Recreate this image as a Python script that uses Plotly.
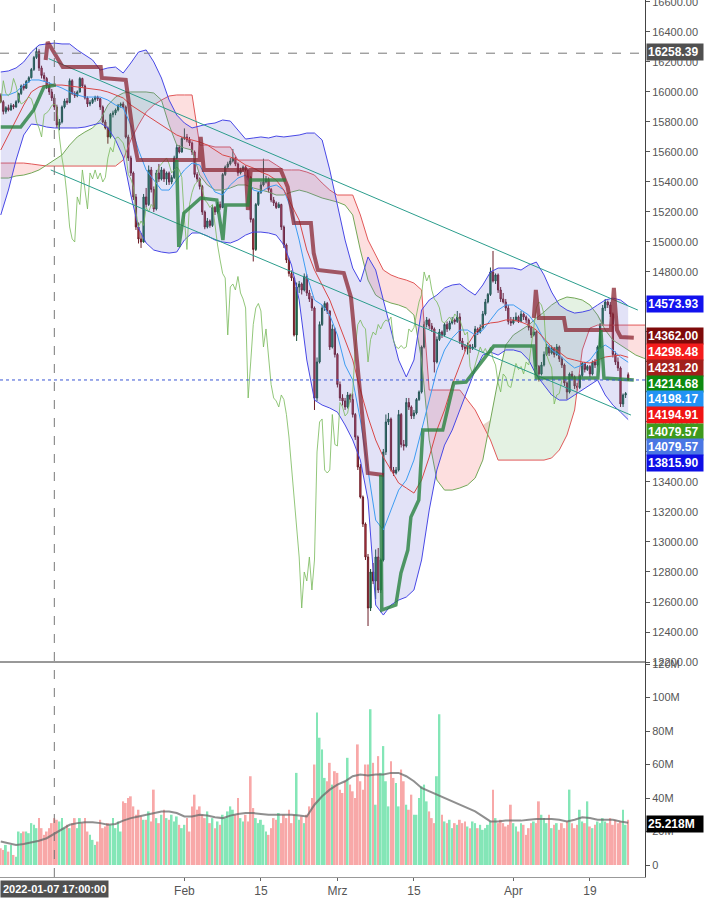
import plotly.graph_objects as go

# ------------------------------------------------------------------ data
BARS_PER_DAY = 3
CHIKOU_SHIFT = 26

open_ = [
    15975,15935,15870, 15895,15880,15910, 15900,15935,15990, 16040,16025,16070,
    16095,16150,16230, 16270,16160,16110, 16090,16040,16000, 15960,15900,15780,
    15800,15900,15940, 15930,16075,15990, 15975,16000,16090, 16040,15960,15920,
    15930,15950,15965, 15955,15900,15800, 15760,15700,15850, 15860,15880,15910,
    15920,15900,15700, 15560,15460,15300, 15100,15020,15000, 15300,15250,15480,
    15350,15220,15460, 15420,15480,15420, 15460,15400,15430, 15560,15630,15600,
    15690,15700,15680, 15660,15600,15450, 15420,15370,15200, 15100,15140,15110,
    15230,15200,15250, 15230,15450,15500, 15520,15540,15560, 15520,15460,15480,
    15500,15480,15430, 15150,14950,15250, 15330,15380,15400, 15420,15350,15280,
    15260,15230,15250, 15100,14980,14880, 14790,14760,14380, 14700,14720,14680,
    14770,14660,14620, 14560,13960,14200, 14450,14560,14590, 14540,14300,14420,
    14250,14050,13960, 13940,13900,13980, 13950,13850,13700, 13500,13300,13120,
    12900,12560,12800, 12740,12900,12680, 12880,13600,13800, 13820,13480,13460,
    13480,13850,13650, 13640,13930,13900, 13840,13860,13950, 14000,14300,14450,
    14480,14440,14420, 14200,14350,14400, 14380,14450,14420, 14460,14480,14470,
    14500,14340,14300, 14290,14310,14290, 14300,14420,14400, 14430,14520,14600,
    14650,14800,14740, 14780,14680,14620, 14600,14560,14470, 14460,14480,14500,
    14470,14520,14500, 14480,14430,14380, 14400,14170,14120, 14180,14250,14300,
    14260,14290,14250, 14300,14220,14180, 14060,14000,14120, 14100,14040,14030,
    14110,14190,14150, 14170,14120,14200, 14180,14300,14450, 14560,14600,14580,
    14520,14250,14200, 14160,13920,13980, 14115]

high = [
    15990,15945,15905, 15915,15925,15920, 15945,15995,16050, 16055,16080,16105,
    16160,16240,16300, 16285,16175,16130, 16100,16065,16020, 15975,15915,15820,
    15910,15955,15960, 16090,16085,16005, 16010,16100,16095, 16050,15970,15945,
    15960,15975,15975, 15960,15910,15815, 15770,15860,15875, 15890,15920,15930,
    15935,15910,15715, 15575,15470,15320, 15130,15060,15320, 15360,15510,15500,
    15370,15480,15520, 15500,15490,15470, 15470,15445,15575, 15650,15645,15700,
    15757,15720,15700, 15670,15610,15465, 15430,15380,15210, 15160,15150,15245,
    15240,15265,15270, 15460,15510,15535, 15560,15620,15570, 15530,15495,15510,
    15510,15490,15440, 15160,15260,15340, 15400,15555,15440, 15430,15360,15300,
    15270,15265,15255, 15110,14990,14895, 14810,14770,14730, 14740,14730,14790,
    14785,14680,14640, 14570,14230,14470, 14580,14605,14600, 14545,14450,14430,
    14260,14070,13985, 13960,14000,13990, 13990,13860,13710, 13520,13310,13130,
    12920,12820,12860, 12950,12960,12890, 13620,13850,13860, 13830,13500,13500,
    13880,13860,13680, 13960,13960,13910, 13880,13960,14010, 14310,14470,14500,
    14490,14460,14430, 14370,14420,14410, 14460,14470,14475, 14500,14490,14540,
    14525,14360,14320, 14330,14320,14320, 14440,14430,14450, 14540,14620,14660,
    14830,14940,14790, 14790,14700,14660, 14620,14580,14500, 14500,14530,14510,
    14540,14530,14510, 14490,14440,14420, 14410,14180,14200, 14270,14320,14310,
    14310,14300,14320, 14310,14235,14190, 14070,14130,14140, 14110,14060,14120,
    14200,14200,14180, 14180,14210,14220, 14310,14460,14580, 14620,14610,14600,
    14530,14270,14230, 14170,13990,14000, 14130]

low = [
    15925,15850,15855, 15870,15875,15885, 15895,15925,15980, 16010,16020,16060,
    16090,16140,16220, 16140,16090,16070, 16020,15980,15940, 15880,15760,15745,
    15790,15890,15915, 15925,15980,15960, 15965,15995,16030, 15950,15900,15905,
    15920,15935,15940, 15880,15790,15750, 15655,15690,15830, 15845,15870,15895,
    15890,15690,15540, 15440,15280,15080, 14990,14960,14995, 15230,15240,15330,
    15200,15210,15400, 15410,15400,15380, 15380,15385,15420, 15550,15590,15595,
    15680,15665,15640, 15580,15430,15400, 15350,15180,15085, 15090,15095,15100,
    15180,15190,15215, 15225,15440,15490, 15510,15530,15505, 15440,15450,15470,
    15470,15415,15130, 14870,14940,15240, 15320,15370,15390, 15330,15265,15240,
    15220,15225,15080, 14960,14860,14770, 14740,14370,14340, 14660,14650,14670,
    14640,14600,14540, 13880,13940,14190, 14440,14540,14520, 14280,14290,14230,
    14030,13940,13910, 13880,13890,13930, 13830,13680,13480, 13290,13100,12880,
    12440,12540,12720, 12620,12660,12660, 12870,13580,13780, 13470,13440,13450,
    13470,13630,13610, 13630,13880,13820, 13820,13850,13940, 13990,14290,14430,
    14420,14400,14130, 14190,14340,14360, 14370,14400,14410, 14450,14450,14460,
    14320,14280,14270, 14250,14260,14280, 14290,14380,14390, 14420,14510,14590,
    14640,14730,14720, 14660,14600,14590, 14540,14450,14440, 14450,14470,14460,
    14465,14480,14460, 14410,14360,14370, 14150,14070,14110, 14170,14240,14240,
    14250,14230,14240, 14200,14160,14040, 13950,13990,14080, 14020,14010,14020,
    14100,14130,14140, 14100,14110,14160, 14170,14290,14440, 14540,14560,14500,
    14230,14180,14140, 13900,13900,13960, 14075]

close = [
    15935,15870,15895, 15880,15910,15900, 15935,15990,16040, 16025,16070,16095,
    16150,16230,16270, 16160,16110,16090, 16040,16000,15960, 15900,15780,15800,
    15900,15940,15930, 16075,15990,15975, 16000,16090,16040, 15960,15920,15930,
    15950,15965,15955, 15900,15800,15760, 15700,15850,15860, 15880,15910,15920,
    15900,15700,15560, 15460,15300,15100, 15020,15000,15300, 15250,15480,15350,
    15220,15460,15420, 15480,15420,15460, 15400,15430,15560, 15630,15600,15690,
    15700,15680,15660, 15600,15450,15420, 15370,15200,15100, 15140,15110,15230,
    15200,15250,15230, 15450,15500,15520, 15540,15560,15520, 15460,15480,15500,
    15480,15430,15150, 14950,15250,15330, 15380,15400,15420, 15350,15280,15260,
    15230,15250,15100, 14980,14880,14790, 14760,14380,14700, 14720,14680,14770,
    14660,14620,14560, 13960,14200,14450, 14560,14590,14540, 14300,14420,14250,
    14050,13960,13940, 13900,13980,13950, 13850,13700,13500, 13300,13120,12900,
    12560,12800,12740, 12900,12680,12880, 13600,13800,13820, 13480,13460,13480,
    13850,13650,13640, 13930,13900,13840, 13860,13950,14000, 14300,14450,14480,
    14440,14420,14200, 14350,14400,14380, 14450,14420,14460, 14480,14470,14500,
    14340,14300,14290, 14310,14290,14300, 14420,14400,14430, 14520,14600,14650,
    14800,14740,14780, 14680,14620,14600, 14560,14470,14460, 14480,14500,14470,
    14520,14500,14480, 14430,14380,14400, 14170,14120,14180, 14250,14300,14260,
    14290,14250,14300, 14220,14180,14060, 14000,14120,14100, 14040,14030,14110,
    14190,14150,14170, 14120,14200,14180, 14300,14450,14560, 14600,14580,14520,
    14250,14200,14160, 13920,13980,13990, 14080]

volume_m = [
    10,9,12, 8,12,6, 5,20,19, 20,20,19, 25,24,22, 28,22,18, 20,22,25, 28,27,26,
    28,22,24, 22,25,28, 22,28,25, 28,20,18, 15,12,14, 27,22,23, 25,24,28, 22,26,20,
    38,37,40, 41,35,30, 33,29,27, 27,32,26, 45,28,25, 30,33,28, 27,30,26, 29,24,22,
    24,28,20, 35,42,33, 35,30,28, 32,25,28, 22,26,24, 30,28,32, 35,33,30, 40,28,26,
    30,26,53, 34,28,25, 27,24,20, 18,22,28, 27,31,25, 30,28,33, 25,30,55, 27,29,25,
    30,35,40, 60,91,76, 69,52,50, 61,48,56, 55,45,43, 50,64,48, 44,40,72, 50,45,60,
    60,93,61, 36,65,55, 71,50,35, 62,52,49, 35,57,50, 36,33,42, 30,30,40, 47,48,38,
    32,28,25, 53,90,30, 26,25,27, 22,25,24, 27,25,26, 23,22,26, 25,22,24, 21,22,24,
    26,45,28, 25,27,25, 23,24,36, 25,23,20, 25,24,18, 22,25,26, 25,38,30, 28,25,30,
    22,24,25, 21,25,22, 26,45,25, 22,24,33, 26,25,38, 23,22,24, 26,25,28, 26,25,28,
    24,27,25, 26,33,24, 27]

# daily-sampled indicator readings (one value per trading day)
vol_ma_m = [
    14,13,12,12.5,13.5,14.5,16,18.5,21,24,
    25,25.5,25.5,25,24,24.5,26.5,28,29,30,
    31,32,32,31,29,29,30,29.5,28.5,28,
    29.5,30.5,31,31,30.5,30,30,30,30,29.5,
    29,36,41,45,48,50,53,54,53.5,54,
    54,55,55,53,50,46,44,42,40,38,
    36,34,32,29,26,26,26.5,26.5,26.5,27,
    27.5,27.5,27.5,27,26,27,28.5,28,27,27,
    27,26,25.218]

bb_upper = [
    16133,16140,16160,16200,16266,16313,16320,16326,16320,16320,
    16280,16246,16213,16146,16160,16166,16126,16193,16266,16280,
    16200,16093,15946,15846,15793,15760,15773,15786,15793,15813,
    15806,15746,15686,15693,15700,15693,15706,15700,15706,15713,
    15726,15726,15680,15480,15246,15013,14826,14733,14900,14813,
    14613,14413,14213,14100,14213,14546,14613,14646,14693,14713,
    14720,14680,14646,14713,14800,14826,14826,14826,14813,14846,
    14866,14780,14666,14580,14546,14526,14533,14546,14580,14613,
    14626,14613,14573.93]

bb_lower = [
    15180,15346,15546,15713,15786,15780,15766,15760,15760,15760,
    15760,15766,15780,15793,15760,15680,15566,15313,15093,14993,
    14946,14933,14926,14933,15013,15060,15060,15040,15013,15000,
    14993,15013,15046,15066,15066,15060,15046,14980,14846,14613,
    14213,13946,13913,13893,13866,13780,13680,13546,13280,12580,
    12513,12580,12613,12633,12680,12880,13213,13480,13646,13746,
    13880,14013,14146,14246,14266,14246,14280,14280,14266,14213,
    14113,14046,13980,13946,13946,13980,14013,14046,14080,13980,
    13913,13866,13815.90]

bb_basis = [
    15980,15980,16000,16046,16080,16080,16066,16046,16026,16000,
    15980,15966,15966,15966,15946,15913,15893,15780,15613,15480,
    15413,15346,15346,15413,15480,15526,15513,15413,15333,15313,
    15380,15426,15446,15346,15333,15366,15380,15346,15213,15013,
    14780,14613,14580,14513,14380,14180,14080,13813,13480,13146,
    13080,13213,13346,13413,13546,13746,13946,14146,14280,14360,
    14413,14413,14380,14413,14480,14546,14580,14580,14546,14513,
    14446,14346,14280,14246,14200,14160,14180,14213,14280,14313,
    14280,14233,14198.17]

kijun = [
    15613,15713,15813,15913,16000,16033,16046,16046,16046,16040,
    16033,16026,16020,16013,16000,15980,15960,15913,15880,15846,
    15813,15780,15746,15713,15693,15680,15666,15646,15613,15580,
    15566,15546,15513,15493,15466,15446,15413,15346,15246,15146,
    14946,14813,14713,14613,14480,14346,14213,14013,13833,13680,
    13566,13480,13393,13360,13326,13413,13566,13746,13880,14046,
    14180,14313,14393,14446,14460,14466,14480,14480,14466,14446,
    14413,14360,14300,14266,14226,14213,14200,14193,14213,14233,
    14240,14246,14231.20]

span_a = [
    15426,15426,15440,15446,15460,15480,15513,15546,15580,15646,
    15700,15733,15760,15813,15913,15966,15993,16000,16000,16000,
    15993,15946,15780,15646,15626,15613,15446,15380,15346,15346,
    15360,15380,15380,15360,15346,15333,15313,15313,15333,15346,
    15333,15313,15293,15280,15266,15246,15180,14946,14746,14646,
    14613,14593,14580,14560,14513,14213,13680,13413,13346,13346,
    13360,13380,13426,13546,13813,14080,14313,14380,14413,14446,
    14493,14533,14580,14613,14633,14626,14613,14580,14513,14413,
    14346,14313,14280,14246,14226,14213,14200,14180,14166,14160,
    14146,14146]

span_b = [
    15526,15526,15526,15526,15520,15513,15506,15506,15506,15506,
    15506,15506,15506,15506,15506,15506,15546,15680,15780,15866,
    15913,15946,15973,15980,15980,15980,15646,15646,15633,15633,
    15633,15546,15546,15546,15546,15546,15513,15480,15480,15480,
    15466,15446,15393,15346,15313,15313,15313,15180,15013,14913,
    14813,14780,14760,14746,14726,14680,14013,14013,14013,14013,
    14013,13946,13880,13780,13680,13546,13546,13546,13546,13546,
    13546,13546,13560,13613,13713,13880,14280,14426,14446,14446,
    14446,14446,14446,14446,14446,14446,14446,14446,14446,14446,
    14446,14446]

# step-like trailing lines (bar index, price); None = not visible in the chart
thick_red_bar = [17.6,18.4,24.3,39.2,39.6,49.0,52.2,53.7,78.0,78.4,79.6,96.1,96.9,
                 98.0,109.8,112.5,114.9,121.6,122.7,124.3,134.5,137.3,143.9,150.2,None,
                 209.0,209.8,211.0,220.8,221.6,239.2,240.4,241.6,243.1,248.2]
thick_red_price = [16213,16333,16166,16166,16093,16080,15680,15546,15546,15700,15480,
                   15480,15213,15480,15480,15366,15126,15126,14926,14813,14793,14633,13460,
                   13446,None,14493,14680,14493,14493,14413,14413,14693,14413,14366,14362.00]
thick_green_bar = [0,7.8,12.9,16.9,21.6,None,
                   69.0,69.8,71.8,78.4,84.7,87.1,88.2,96.9,98.0,111.8,None,
                   149.0,149.4,154.9,156.9,159.6,160.8,163.9,165.5,173.3,177.6,182.4,
                   193.3,209.0,210.0,234.1,235.3,236.5,248.2]
thick_green_price = [15766,15766,15880,16033,16046,None,
                     15546,14966,15193,15293,15280,15013,15246,15246,15413,15413,None,
                     13446,12546,12580,12793,12946,13166,13280,13746,13746,14060,14066,
                     14306,14306,14093,14093,14413,14093,14079.57]

# trend channel (two anchor points each)
chan_upper_bar = [18.8, 249.8]
chan_upper_price = [16222, 14546]
chan_lower_bar = [19.6, 247.1]
chan_lower_price = [15480, 13846]

tick_bars = [72, 102, 132, 162, 201, 231]
tick_text = ['Feb', '15', 'Mrz', '15', 'Apr', '19']
vol_tick_vals = [0, 20, 40, 60, 80, 100, 120]
vol_tick_text = ['0', '20M', '40M', '60M', '80M', '100M', '120M']

crosshair_bar = 21
crosshair_price = 16258.39
crosshair_text = '2022-01-07 17:00:00'

label_texts = ['14573.93', '14362.00', '14298.48', '14231.20', '14214.68',
               '14198.17', '14194.91', '14079.57', '14079.57', '13815.90']
label_colors = ['#1212ee', '#7e0a0a', '#f41c1c', '#a2201c', '#0c8a10',
                '#2292f4', '#f01414', '#3e9a1c', '#4a76e4', '#0e0ee6']
vol_label_text = '25.218M'

# ------------------------------------------------------------------ figure
n = len(close)
bar_x = list(range(n))
day_x = [BARS_PER_DAY * d for d in range(len(bb_upper))]
cloud_x = [BARS_PER_DAY * d for d in range(len(span_a))]
cloud_top = [max(a, b) for a, b in zip(span_a, span_b)]
chikou_x = [i - CHIKOU_SHIFT for i in bar_x]

fig = go.Figure()
P = dict(xaxis='x', yaxis='y', hoverinfo='skip', mode='lines')

# Ichimoku cloud
fig.add_trace(go.Scatter(x=cloud_x, y=span_b, line=dict(color='#e05a5a', width=1), **P))
fig.add_trace(go.Scatter(x=cloud_x, y=cloud_top, line=dict(width=0), fill='tonexty',
                         fillcolor='rgba(90,175,80,0.16)', **P))
fig.add_trace(go.Scatter(x=cloud_x, y=span_a, line=dict(color='#74a858', width=1), **P))
fig.add_trace(go.Scatter(x=cloud_x, y=cloud_top, line=dict(width=0), fill='tonexty',
                         fillcolor='rgba(245,80,80,0.18)', **P))
# Bollinger bands
fig.add_trace(go.Scatter(x=day_x, y=bb_lower, line=dict(color='#4848e6', width=1), **P))
fig.add_trace(go.Scatter(x=day_x, y=bb_upper, line=dict(color='#4848e6', width=1), fill='tonexty',
                         fillcolor='rgba(110,110,215,0.20)', **P))
fig.add_trace(go.Scatter(x=day_x, y=bb_basis, line=dict(color='#3d9cf2', width=1), **P))
fig.add_trace(go.Scatter(x=day_x, y=kijun, line=dict(color='#d84848', width=1), **P))
# lagging span
fig.add_trace(go.Scatter(x=chikou_x, y=close, line=dict(color='rgba(120,185,90,0.8)', width=1), **P))
# channel
fig.add_trace(go.Scatter(x=chan_upper_bar, y=chan_upper_price, line=dict(color='#2b9d8c', width=1), **P))
fig.add_trace(go.Scatter(x=chan_lower_bar, y=chan_lower_price, line=dict(color='#2b9d8c', width=1), **P))
# thick trailing lines
fig.add_trace(go.Scatter(x=thick_red_bar, y=thick_red_price, connectgaps=False,
                         line=dict(color='rgba(135,30,42,0.72)', width=4), **P))
fig.add_trace(go.Scatter(x=thick_green_bar, y=thick_green_price, connectgaps=False,
                         line=dict(color='rgba(40,130,62,0.8)', width=3.5), **P))
# candles
fig.add_trace(go.Candlestick(
    x=bar_x, open=open_, high=high, low=low, close=close, xaxis='x', yaxis='y',
    increasing=dict(line=dict(color='#174f36', width=1), fillcolor='#1f9262'),
    decreasing=dict(line=dict(color='#6a1c26', width=1), fillcolor='#e2434f'),
    whiskerwidth=0, hoverinfo='skip'))

# volume
vol_colors = ['#84e6b7' if c >= o else '#f8a8a8' for o, c in zip(open_, close)]
fig.add_trace(go.Bar(x=bar_x, y=volume_m, marker=dict(color=vol_colors, line=dict(width=0)),
                     width=0.72, xaxis='x2', yaxis='y2', hoverinfo='skip'))
fig.add_trace(go.Scatter(x=day_x, y=vol_ma_m, mode='lines', xaxis='x2', yaxis='y2',
                         line=dict(color='rgba(105,105,105,0.75)', width=2), hoverinfo='skip'))

PLOT_H = 877.0
SPLIT = 1 - 662 / PLOT_H
FONT = 'Liberation Sans, Arial, sans-serif'

fig.update_layout(
    width=709, height=900, autosize=False,
    margin=dict(l=0, r=64, t=0, b=23, autoexpand=False),
    paper_bgcolor='white', plot_bgcolor='white', showlegend=False,
    font=dict(family=FONT, size=11, color='#555555'),
    xaxis=dict(domain=[0, 1], anchor='y', range=[-0.3, 252.6], showticklabels=False,
               showgrid=False, zeroline=False, ticks='', automargin=False,
               rangeslider=dict(visible=False)),
    xaxis2=dict(domain=[0, 1], anchor='y2', matches='x', tickmode='array', tickvals=tick_bars,
                ticktext=tick_text, ticks='outside', ticklen=3, tickcolor='#666',
                showgrid=False, zeroline=False, showline=True, linecolor='#999',
                automargin=False, tickfont=dict(size=12, color='#555')),
    yaxis=dict(domain=[SPLIT, 1], anchor='x', side='right', range=[12200, 16613],
               tickmode='array', tickvals=list(range(12200, 16801, 200)), tickformat='.2f',
               ticks='outside', ticklen=4, tickcolor='#555', showgrid=False, zeroline=False,
               showline=True, linecolor='#444', automargin=False, ticklabeloverflow='allow',
               tickfont=dict(size=11, color='#555')),
    yaxis2=dict(domain=[0, SPLIT], anchor='x2', side='right', range=[-7.16, 121.2],
                tickmode='array', tickvals=vol_tick_vals, ticktext=vol_tick_text,
                ticks='outside', ticklen=4, tickcolor='#555', showgrid=False, zeroline=False,
                showline=True, linecolor='#444', automargin=False,
                tickfont=dict(size=11, color='#555')),
)

# separator between panels
fig.add_shape(type='line', xref='paper', yref='paper', x0=0, x1=1, y0=SPLIT, y1=SPLIT,
              line=dict(color='#333', width=1))
# crosshair
fig.add_shape(type='line', xref='x', yref='paper', x0=crosshair_bar, x1=crosshair_bar, y0=0, y1=1,
              line=dict(color='#777', width=1, dash='dash'))
fig.add_shape(type='line', xref='paper', yref='y', x0=0, x1=1, y0=crosshair_price, y1=crosshair_price,
              line=dict(color='#777', width=1, dash='dash'))
# last price
fig.add_shape(type='line', xref='paper', yref='y', x0=0, x1=1, y0=close[-1], y1=close[-1],
              line=dict(color='#3a56d4', width=1, dash='dot'))

def right_label(text, color, py):
    fig.add_annotation(x=1, xref='paper', xanchor='left', xshift=1,
                       y=1 - py / PLOT_H, yref='paper', yanchor='middle',
                       text='<b>%s</b>' % text, showarrow=False, bgcolor=color,
                       font=dict(family=FONT, color='white', size=12),
                       borderpad=1, width=54, align='left')

label_py = [304, 336, 352, 368, 384, 399, 415, 432, 447, 463]
for t, c, py in zip(label_texts, label_colors, label_py):
    right_label(t, c, py)
right_label('%.2f' % crosshair_price, '#505050', 52)
right_label(vol_label_text, '#000000', 824)

fig.add_annotation(x=crosshair_bar, xref='x2', y=0, yref='paper', yanchor='top', yshift=-3,
                   text='<b>%s</b>' % crosshair_text, showarrow=False, bgcolor='#505050',
                   font=dict(family=FONT, color='white', size=11), borderpad=2)

fig.write_html('out.html', config={'displayModeBar': False},
               post_script="document.body.style.margin='0';document.body.style.overflow='hidden';")
